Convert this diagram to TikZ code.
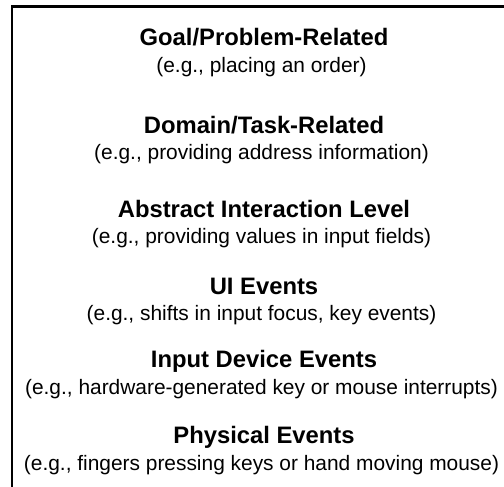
\documentclass[tikz,border=0pt]{standalone}
\usepackage{fontspec}
\setmainfont{Liberation Sans}
\begin{document}
\begin{tikzpicture}[x=1pt,y=1pt,
  title/.style={anchor=base, inner sep=0pt, font=\fontsize{23.8}{26}\selectfont\bfseries},
  example/.style={anchor=base, inner sep=0pt, font=\fontsize{20.9}{23}\selectfont},
  frame/.style={line width=2.4pt}]
\useasboundingbox (0,0) rectangle (504,-487);
\coordinate (tl) at (12,-6.5);
\coordinate (tr) at (504,-6.5);
\coordinate (bl) at (12,-487);
\draw[frame] (tr) -- (tl) -- (bl);
\node[title] (t1) at (264,-46) {Goal/Problem-Related};
\node[example] (e1) at (261.5,-73) {(e.g., placing an order)};
\node[title] (t2) at (264,-133) {Domain/Task-Related};
\node[example] (e2) at (261.5,-159) {(e.g., providing address information)};
\node[title] (t3) at (264,-217) {Abstract Interaction Level};
\node[example] (e3) at (261.5,-243) {(e.g., providing values in input fields)};
\node[title] (t4) at (264,-294) {UI Events};
\node[example] (e4) at (261.5,-320) {(e.g., shifts in input focus, key events)};
\node[title] (t5) at (264,-367) {Input Device Events};
\node[example] (e5) at (261.5,-394) {(e.g., hardware-generated key or mouse interrupts)};
\node[title] (t6) at (264,-443) {Physical Events};
\node[example] (e6) at (261.5,-470) {(e.g., fingers pressing keys or hand moving mouse)};
\end{tikzpicture}
\end{document}
